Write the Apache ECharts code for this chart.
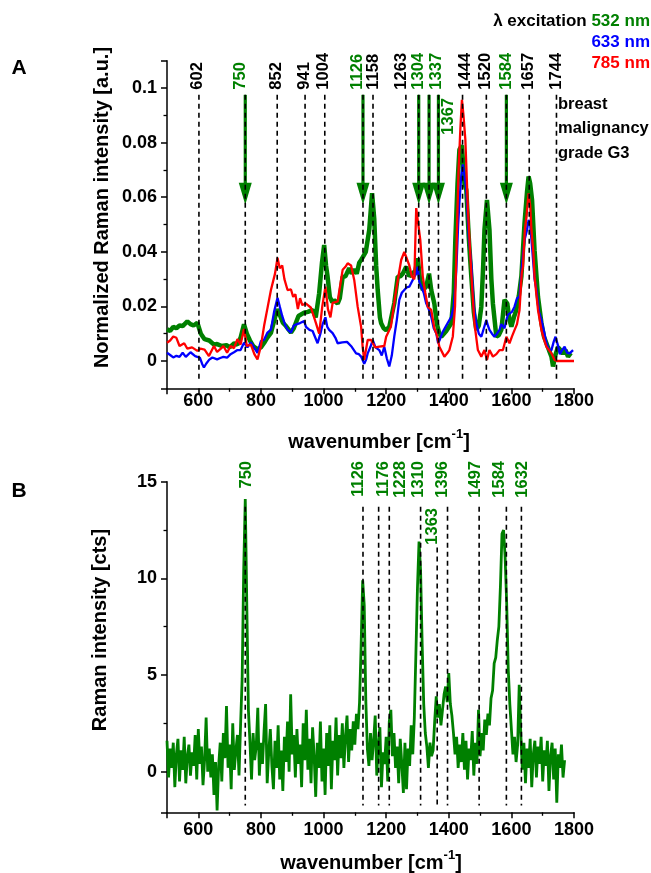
<!DOCTYPE html>
<html>
<head>
<meta charset="utf-8">
<script src="https://cdn.jsdelivr.net/npm/echarts/dist/echarts.min.js"></script>
<style>
html,body{margin:0;padding:0;background:#fff;}
#chart{width:651px;height:873px;}
</style>
</head>
<body>
<div id="chart"></div>
<script>
// ================= DATA =================
// Panel A: normalized Raman spectra, [wavenumber, intensity]
const greenA = [[500,0.0116],[510,0.011],[520,0.0125],[530,0.012],[540,0.013],[550,0.0128],[565,0.0145],[575,0.0135],[585,0.013],[597,0.014],[602,0.0145],[608,0.010],[620,0.008],[635,0.0075],[650,0.006],[660,0.0062],[675,0.0055],[690,0.0058],[700,0.005],[715,0.0065],[725,0.006],[735,0.0085],[746,0.0134],[755,0.010],[765,0.0075],[775,0.0055],[789,0.0043],[800,0.005],[810,0.0066],[820,0.0085],[832,0.0103],[845,0.016],[853,0.019],[860,0.017],[870,0.014],[880,0.0128],[896,0.0104],[905,0.012],[920,0.0165],[938,0.0177],[950,0.018],[965,0.0187],[975,0.016],[986,0.0248],[995,0.036],[1002,0.0425],[1008,0.035],[1013,0.0308],[1020,0.0235],[1028,0.0215],[1034,0.0223],[1045,0.021],[1052,0.023],[1061,0.0308],[1070,0.031],[1082,0.034],[1090,0.032],[1098,0.0335],[1106,0.032],[1114,0.036],[1120,0.037],[1125,0.038],[1135,0.040],[1146,0.048],[1155,0.0615],[1162,0.052],[1168,0.035],[1173,0.026],[1180,0.016],[1184,0.0138],[1192,0.012],[1200,0.0113],[1210,0.0125],[1215,0.0126],[1226,0.0212],[1237,0.0309],[1245,0.031],[1253,0.032],[1264,0.0345],[1274,0.031],[1285,0.0322],[1293,0.033],[1301,0.0376],[1308,0.030],[1317,0.026],[1328,0.0272],[1337,0.032],[1344,0.026],[1354,0.021],[1362,0.0135],[1370,0.010],[1376,0.0089],[1392,0.011],[1408,0.0138],[1416,0.025],[1421,0.0444],[1428,0.065],[1434,0.0774],[1442,0.079],[1450,0.065],[1456,0.0627],[1464,0.045],[1472,0.0309],[1480,0.018],[1488,0.0114],[1496,0.013],[1504,0.0199],[1510,0.035],[1514,0.048],[1522,0.059],[1530,0.048],[1536,0.030],[1541,0.021],[1552,0.0089],[1560,0.0095],[1568,0.0114],[1578,0.0224],[1587,0.021],[1594,0.015],[1600,0.0126],[1608,0.016],[1616,0.0188],[1624,0.024],[1632,0.0311],[1642,0.0505],[1650,0.062],[1655,0.0676],[1660,0.065],[1666,0.059],[1674,0.0406],[1685,0.0235],[1696,0.0139],[1704,0.009],[1712,0.0065],[1720,0.004],[1728,0.0016],[1733,-0.002],[1740,0.002],[1749,0.0051],[1757,0.004],[1765,0.0027],[1773,0.004],[1781,0.0016],[1790,0.003]];

const blueA = [[500,0.003],[510,0.0022],[520,0.0013],[530,0.0019],[540,0.0015],[550,0.003],[560,0.0015],[575,0.0032],[590,0.0018],[597,0.0015],[605,0.0012],[612,-0.001],[618,-0.0024],[625,-0.001],[635,0.0005],[645,0.0013],[660,0.0006],[670,0.0011],[680,0.0015],[692,0.0012],[703,0.0025],[714,0.0032],[725,0.004],[735,0.004],[746,0.0067],[757,0.005],[768,0.0068],[779,0.0048],[789,0.003],[800,0.0073],[810,0.0078],[821,0.0104],[832,0.0115],[842,0.018],[853,0.0232],[860,0.020],[868,0.0165],[878,0.013],[885,0.0115],[896,0.0104],[905,0.013],[915,0.0135],[925,0.0139],[938,0.0146],[944,0.0125],[955,0.0114],[965,0.011],[981,0.0065],[990,0.010],[997,0.0135],[1006,0.016],[1012,0.0125],[1018,0.0114],[1029,0.0102],[1038,0.0085],[1045,0.0065],[1060,0.0068],[1075,0.007],[1090,0.0052],[1104,0.0028],[1113,0.0025],[1120,0.0016],[1130,-0.001],[1136,0.0005],[1141,0.0028],[1150,0.0052],[1157,0.0077],[1166,0.005],[1178,0.004],[1186,0.002],[1194,0.0052],[1202,0.001],[1210,-0.002],[1218,0.002],[1226,0.009],[1234,0.015],[1242,0.0224],[1250,0.025],[1258,0.026],[1266,0.027],[1274,0.0272],[1282,0.029],[1290,0.0308],[1296,0.032],[1301,0.0345],[1306,0.029],[1312,0.0284],[1320,0.025],[1328,0.0211],[1336,0.019],[1344,0.0162],[1352,0.012],[1360,0.0102],[1366,0.0065],[1372,0.008],[1380,0.0105],[1392,0.013],[1408,0.0162],[1416,0.020],[1424,0.033],[1430,0.050],[1434,0.058],[1440,0.068],[1445,0.072],[1450,0.068],[1456,0.063],[1464,0.045],[1472,0.0357],[1480,0.020],[1488,0.0138],[1496,0.010],[1504,0.0089],[1512,0.012],[1520,0.015],[1525,0.013],[1530,0.0114],[1538,0.010],[1546,0.0089],[1554,0.010],[1562,0.0114],[1568,0.0135],[1573,0.0138],[1578,0.012],[1584,0.015],[1589,0.017],[1594,0.0174],[1602,0.018],[1610,0.0199],[1618,0.023],[1626,0.0235],[1634,0.035],[1642,0.0443],[1650,0.048],[1655,0.0517],[1660,0.050],[1666,0.0418],[1674,0.030],[1680,0.0261],[1688,0.018],[1696,0.0151],[1704,0.011],[1712,0.0065],[1720,0.004],[1728,0.004],[1735,0.007],[1741,0.0089],[1748,0.006],[1755,0.0025],[1762,0.004],[1770,0.0052],[1778,0.003],[1786,0.0028],[1797,0.004]];

const redA = [[500,0.0067],[510,0.0075],[520,0.009],[530,0.0085],[540,0.0055],[555,0.0065],[565,0.0045],[580,0.005],[597,0.0037],[607,0.0045],[620,0.0042],[634,0.0018],[650,0.0055],[660,0.0033],[672,0.0045],[680,0.0055],[692,0.003],[703,0.0055],[714,0.0047],[725,0.008],[735,0.006],[746,0.0117],[755,0.0055],[768,0.006],[779,0.0025],[789,0.0006],[800,0.0055],[810,0.0128],[822,0.020],[832,0.026],[845,0.032],[853,0.0378],[860,0.034],[868,0.035],[875,0.030],[885,0.026],[896,0.0262],[903,0.0235],[910,0.0245],[918,0.019],[925,0.023],[932,0.0205],[944,0.021],[960,0.0195],[976,0.0138],[986,0.010],[996,0.020],[1006,0.0272],[1014,0.019],[1022,0.016],[1029,0.0213],[1045,0.0218],[1061,0.0334],[1070,0.0345],[1077,0.0358],[1088,0.035],[1098,0.0297],[1109,0.0199],[1120,0.0125],[1125,0.005],[1130,0.0004],[1141,0.0077],[1152,0.0077],[1165,0.005],[1178,0.0053],[1194,0.0055],[1200,0.0089],[1215,0.0125],[1232,0.026],[1248,0.037],[1258,0.040],[1264,0.0407],[1274,0.035],[1282,0.031],[1290,0.030],[1296,0.056],[1302,0.0565],[1309,0.0444],[1317,0.031],[1325,0.025],[1333,0.0198],[1344,0.0187],[1354,0.012],[1362,0.0095],[1370,0.0052],[1386,0.0016],[1395,0.0028],[1402,0.004],[1413,0.009],[1420,0.020],[1424,0.038],[1431,0.069],[1437,0.085],[1442,0.0957],[1447,0.090],[1453,0.081],[1461,0.056],[1466,0.045],[1472,0.032],[1482,0.0138],[1493,0.004],[1504,0.0016],[1514,0.004],[1522,0.0004],[1530,0.004],[1541,0.0016],[1552,0.0025],[1562,0.004],[1573,0.004],[1584,0.0089],[1594,0.0065],[1602,0.009],[1610,0.0113],[1618,0.0135],[1626,0.0187],[1633,0.032],[1637,0.0345],[1643,0.048],[1648,0.0528],[1655,0.0614],[1660,0.057],[1664,0.048],[1670,0.040],[1674,0.0308],[1685,0.0187],[1696,0.0113],[1704,0.008],[1712,0.0052],[1728,0.0028],[1738,0.0004],[1745,0],[1800,0]];

// Panel A band positions (cm-1)
const peaksA = [602,750,852,941,1004,1126,1158,1263,1304,1337,1367,1444,1520,1584,1657,1744];
// bands characteristic for 532 nm excitation (green labels, arrows)
const greenBandsA = [750,1126,1304,1337,1367,1584];

// Panel B: spectrum sampled every 5 cm-1 starting at 500 cm-1
const specB_start = 500, specB_step = 5;
const specB = [
1.6,-0.3,1.2,0.2,1.5,-0.8,0.9,1.7,-0.5,1.1,
0.1,1.8,-0.6,0.8,1.4,-0.2,1.0,0.3,1.9,-0.4,
2.2,0.4,1.3,-0.7,0.6,2.8,0.0,1.2,-0.3,0.9,
-1.2,0.5,-2.0,0.3,1.5,-0.5,2.0,0.7,3.4,0.2,
1.4,-0.9,2.5,0.1,1.1,1.9,-0.2,2.4,4.8,10.4,
14.1,8.5,3.2,1.5,-0.4,2.0,0.6,1.3,3.3,-0.2,
1.5,0.4,2.1,3.5,-0.6,1.0,2.2,0.3,-0.9,1.6,
0.2,2.4,-0.4,1.1,-1.0,1.8,0.5,2.6,0.0,4.0,
0.9,1.9,-0.3,2.2,0.4,1.4,-0.8,2.5,0.6,3.2,
0.1,1.7,-0.6,2.3,0.8,-1.3,1.5,0.2,2.6,-0.5,
1.2,-1.2,2.0,0.3,2.4,-0.9,1.6,0.6,2.8,-0.2,
1.9,0.7,2.5,0.2,1.8,2.9,0.5,2.2,1.1,2.6,
1.4,3.0,2.2,3.6,6.5,9.9,8.6,3.7,1.2,0.3,
2.0,0.6,1.6,2.9,-0.2,1.4,2.3,-0.8,1.0,0.4,
1.8,-0.5,2.6,3.2,0.8,2.0,0.2,1.3,-0.6,1.7,
0.4,-1.1,1.5,-0.9,1.2,0.3,2.4,0.9,2.8,6.1,
9.5,11.9,10.4,6.6,3.5,2.0,1.3,0.2,1.5,0.8,
1.1,2.6,3.9,2.8,3.5,2.4,3.2,4.0,4.4,3.6,
5.1,3.5,2.9,2.0,0.9,1.8,0.2,1.4,0.5,2.0,
0.1,1.6,-0.4,1.2,0.6,2.1,-0.2,1.5,0.4,3.2,
0.8,2.0,1.1,2.7,1.9,3.0,2.4,3.8,4.2,5.6,
5.9,6.8,7.5,9.6,12.3,12.5,11.1,8.7,5.3,3.5,
2.2,0.9,1.8,0.5,1.4,4.5,2.0,0.1,1.5,-0.6,
1.2,0.2,1.7,-0.8,0.9,1.6,-0.3,1.3,0.4,1.8,
-0.5,1.1,0.3,1.6,-1.0,0.8,1.5,-0.4,1.2,-1.6,
0.9,0.2,1.4,-0.3,0.6
];
// Panel B band labels and the dashed-line positions drawn for them
const peaksB_labels = ['750','1126','1176','1228','1310','1363','1396','1497','1584','1632'];
const peaksB_lines = [750,1126,1176,1210,1310,1363,1396,1497,1584,1632];

// ================= STYLE =================
const FONT = '"Liberation Sans", Arial, sans-serif';
const GREEN = '#008000', BLUE = '#0000ff', RED = '#ff0000';
const labelDxA = {602:-1.6,750:-4.4,852:-1,941:-0.8,1004:-1.5,1126:-5.6,1158:0.4,1263:-4.7,1304:-0.3,1337:7,1367:10,1444:3,1520:-0.7,1584:0,1657:-0.6,1744:0};
const labelDxB = [1,-4.6,4.8,10.7,-2,-4.7,-5.5,-3.6,-6.7,0.75];
const lowLabelA = {1367:true};
const lowLabelB = {'1363':true};

const chart = echarts.init(document.getElementById('chart'), null, {renderer:'canvas'});

function axisCommon(extra) {
  return Object.assign({
    type:'value',
    axisLine:{show:true, onZero:false, lineStyle:{color:'#000', width:1.5}},
    axisTick:{show:true, inside:false, length:6, lineStyle:{color:'#000', width:1.5}},
    minorTick:{show:true, splitNumber:2, length:3.5, lineStyle:{color:'#000', width:1.3}},
    splitLine:{show:false},
    minorSplitLine:{show:false}
  }, extra);
}
const labelStyle = {fontFamily:FONT, fontWeight:'bold', fontSize:18, color:'#000'};
const plainNum = v => String(v);

function txt(x, y, text, fill, size, align, vAlign, rot) {
  return {type:'text', x:x, y:y, rotation:rot||0, silent:true,
    style:{text:text, fill:fill, font:'bold '+size+'px '+FONT, align:align, verticalAlign:vAlign, textAlign:align, textVerticalAlign:vAlign}};
}

const peakARender = function (params, api) {
  const wn = peaksA[params.dataIndex];
  const isGreen = greenBandsA.indexOf(wn) >= 0;
  const top = api.coord([wn, 0.0975]);
  const bot = api.coord([wn, -0.008]);
  const lab = api.coord([wn, lowLabelA[wn] ? 0.0829 : 0.0994]);
  return {type:'group', children:[
    {type:'line', shape:{x1:top[0], y1:top[1], x2:bot[0], y2:bot[1]}, style:{stroke:'#000', lineWidth:1.6, lineDash:[5,4]}},
    txt(lab[0] + labelDxA[wn], lab[1], String(wn), isGreen ? GREEN : '#000', 16.5, 'left', 'middle', Math.PI/2)
  ]};
};
const arrowARender = function (params, api) {
  const wn = greenBandsA[params.dataIndex];
  const top = api.coord([wn, 0.0975]);
  const head = api.coord([wn, 0.0653]);
  const tip = api.coord([wn, 0.0572]);
  return {type:'group', children:[
    {type:'line', shape:{x1:top[0], y1:top[1], x2:head[0], y2:head[1]+2}, style:{stroke:GREEN, lineWidth:3.2}},
    {type:'polygon', shape:{points:[[head[0]-6.5, head[1]],[head[0]+6.5, head[1]],[tip[0], tip[1]]]}, style:{fill:GREEN}}
  ]};
};
const peakBRender = function (params, api) {
  const i = params.dataIndex;
  const wn = peaksB_lines[i];
  const low = lowLabelB[peaksB_labels[i]];
  const top = api.coord([wn, low ? 11.6 : 13.7]);
  const bot = api.coord([wn, -1.75]);
  const lab = api.coord([wn, low ? 13.64 : 16.07]);
  return {type:'group', children:[
    {type:'line', shape:{x1:top[0], y1:top[1], x2:bot[0], y2:bot[1]}, style:{stroke:'#000', lineWidth:1.6, lineDash:[5,4]}},
    txt(lab[0] + labelDxB[i], lab[1], peaksB_labels[i], GREEN, 16.5, 'right', 'middle', Math.PI/2)
  ]};
};

const specBData = specB.map((v, i) => [specB_start + i * specB_step, v]);

const option = {
  animation:false,
  backgroundColor:'#fff',
  grid:[
    {left:167, top:60.7, width:407, height:327.6},
    {left:167, top:481.7, width:407, height:330.6}
  ],
  xAxis:[
    axisCommon({gridIndex:0, min:500, max:1800, minInterval:200, maxInterval:200,
      axisLabel:Object.assign({margin:4, showMinLabel:false, formatter:plainNum}, labelStyle)}),
    axisCommon({gridIndex:1, min:500, max:1800, minInterval:200, maxInterval:200,
      axisLabel:Object.assign({margin:9, showMinLabel:false, formatter:plainNum}, labelStyle)})
  ],
  yAxis:[
    axisCommon({gridIndex:0, min:-0.01, max:0.11, minInterval:0.02, maxInterval:0.02,
      axisLabel:Object.assign({margin:10, showMinLabel:false, showMaxLabel:false}, labelStyle)}),
    axisCommon({gridIndex:1, min:-2.1, max:15, minInterval:5, maxInterval:5,
      axisLabel:Object.assign({margin:10, showMinLabel:false}, labelStyle)})
  ],
  series:[
    {type:'line', xAxisIndex:0, yAxisIndex:0, data:greenA, symbol:'none', z:2,
     lineStyle:{color:GREEN, width:4.5}},
    {type:'line', xAxisIndex:0, yAxisIndex:0, data:blueA, symbol:'none', z:3,
     lineStyle:{color:BLUE, width:2.3}},
    {type:'line', xAxisIndex:0, yAxisIndex:0, data:redA, symbol:'none', z:4,
     lineStyle:{color:RED, width:2.3}},
    {type:'custom', xAxisIndex:0, yAxisIndex:0, z:5, clip:false, silent:true,
     data:greenBandsA.map(v => [v, 0.08]), renderItem:arrowARender},
    {type:'custom', xAxisIndex:0, yAxisIndex:0, z:6, clip:false, silent:true,
     data:peaksA.map(v => [v, 0.08]), renderItem:peakARender},
    {type:'line', xAxisIndex:1, yAxisIndex:1, data:specBData, symbol:'none', z:2,
     lineStyle:{color:GREEN, width:2.8}},
    {type:'custom', xAxisIndex:1, yAxisIndex:1, z:6, clip:false, silent:true,
     data:peaksB_lines.map(v => [v, 10]), renderItem:peakBRender}
  ],
  graphic:[
    txt(19, 68, 'A', '#000', 21, 'center', 'middle'),
    txt(19, 491, 'B', '#000', 21, 'center', 'middle'),
    txt(102, 207.5, 'Normalized Raman intensity [a.u.]', '#000', 20, 'center', 'middle', Math.PI/2),
    txt(100, 630, 'Raman intensity [cts]', '#000', 20, 'center', 'middle', Math.PI/2),
    {type:'text', x:379, y:440, silent:true, style:{text:'{t|wavenumber [cm}{s|-1}{t|]}', align:'center', verticalAlign:'middle', textAlign:'center', textVerticalAlign:'middle',
      rich:{t:{font:'bold 20px '+FONT, fill:'#000', color:'#000', lineHeight:24, verticalAlign:'bottom'}, s:{font:'bold 13px '+FONT, fill:'#000', color:'#000', lineHeight:24, verticalAlign:'top'}}}},
    {type:'text', x:371, y:861, silent:true, style:{text:'{t|wavenumber [cm}{s|-1}{t|]}', align:'center', verticalAlign:'middle', textAlign:'center', textVerticalAlign:'middle',
      rich:{t:{font:'bold 20px '+FONT, fill:'#000', color:'#000', lineHeight:24, verticalAlign:'bottom'}, s:{font:'bold 13px '+FONT, fill:'#000', color:'#000', lineHeight:24, verticalAlign:'top'}}}},
    {type:'text', x:650, y:21.7, silent:true, style:{text:'{k|λ excitation }{g|532 nm}', align:'right', verticalAlign:'middle', textAlign:'right', textVerticalAlign:'middle',
      rich:{k:{font:'bold 17px '+FONT, fill:'#000', color:'#000'}, g:{font:'bold 17px '+FONT, fill:GREEN, color:GREEN}}}},
    txt(650, 42.7, '633 nm', BLUE, 17, 'right', 'middle'),
    txt(650, 63.3, '785 nm', RED, 17, 'right', 'middle'),
    txt(558, 104, 'breast', '#000', 16.5, 'left', 'middle'),
    txt(558, 128.5, 'malignancy', '#000', 16.5, 'left', 'middle'),
    txt(558, 153, 'grade G3', '#000', 16.5, 'left', 'middle')
  ]
};
chart.setOption(option);
</script>
</body>
</html>
